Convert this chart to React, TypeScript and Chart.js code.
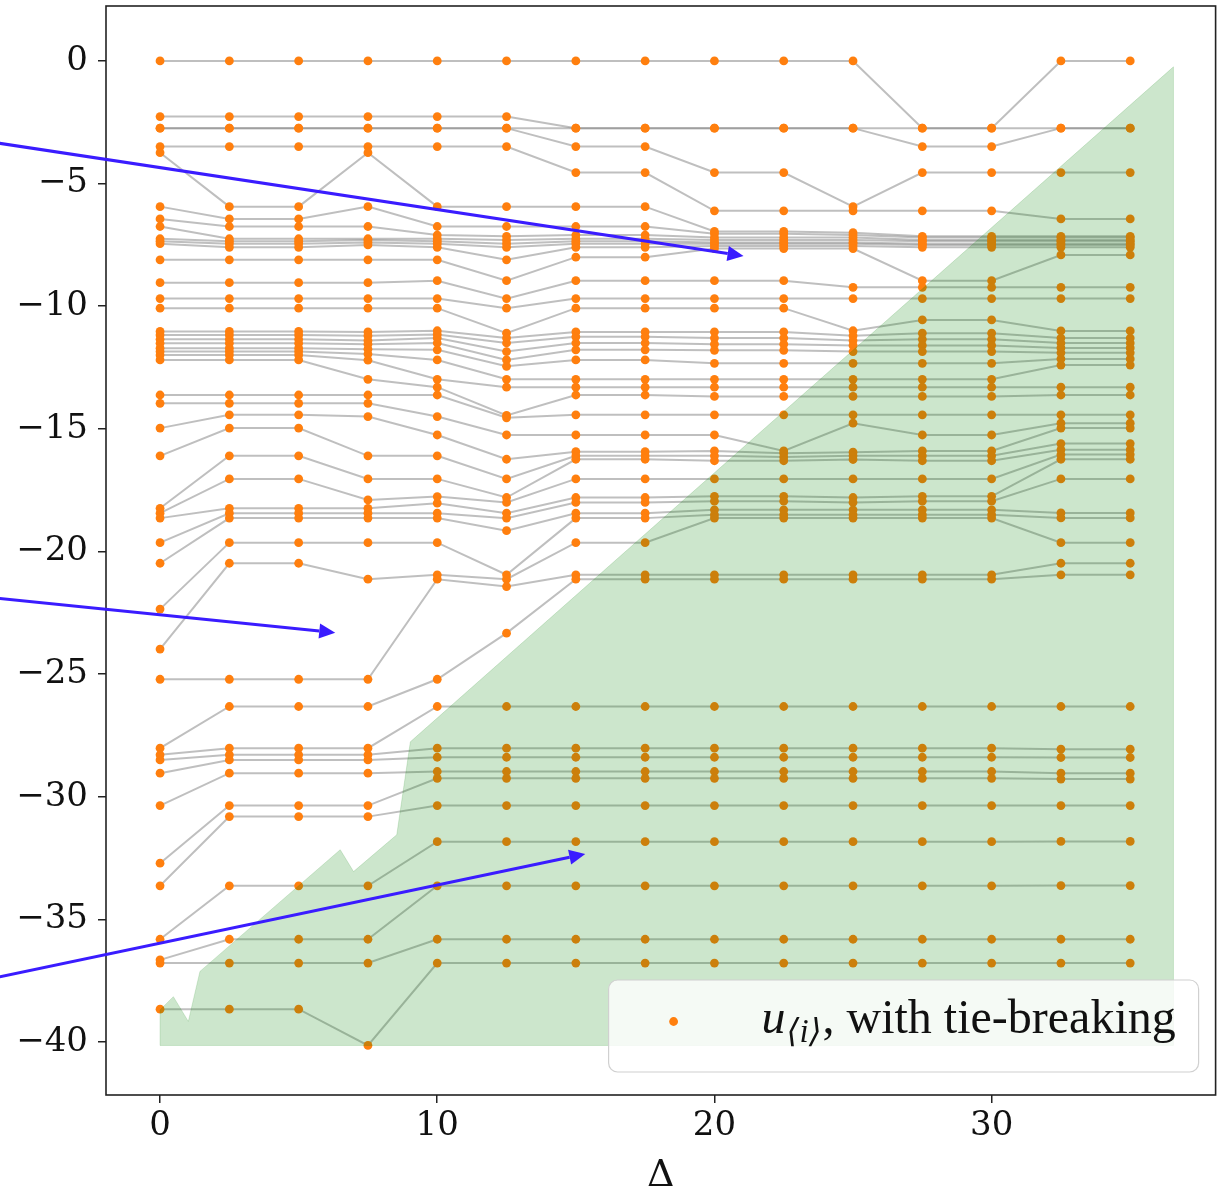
import React, { useEffect, useRef } from 'react';
import { Chart, registerables } from 'chart.js';

Chart.register(...registerables);

// Δ values (x positions of the columns)
const deltas = [0, 2.5, 5, 7.5, 10, 12.5, 15, 17.5, 20, 22.5, 25, 27.5, 30, 32.5, 35];

// sorted values u_<i> for each Δ (47 ranks each)
const uAt0 = [0, -2.27, -2.74, -2.74, -3.49, -3.74, -5.94, -6.44, -6.75, -7.25, -7.35, -7.45, -8.11, -9.04, -9.69, -10.08, -11.03, -11.17, -11.35, -11.51, -11.71, -11.85, -11.99, -12.19, -13.62, -13.96, -14.97, -16.1, -18.24, -18.44, -18.64, -19.64, -20.48, -22.35, -23.98, -25.21, -28.02, -28.29, -28.5, -29.04, -30.36, -32.71, -33.63, -35.81, -36.65, -36.78, -38.66];
const uAt2_5 = [0, -2.27, -2.74, -2.74, -3.49, -5.94, -6.44, -6.75, -7.25, -7.35, -7.45, -7.6, -8.11, -9.04, -9.69, -10.08, -11.03, -11.17, -11.35, -11.51, -11.71, -11.85, -11.99, -12.19, -13.62, -13.96, -14.43, -14.97, -16.1, -17.04, -18.24, -18.44, -18.64, -19.64, -20.48, -25.21, -26.32, -28.02, -28.29, -28.5, -29.04, -30.36, -30.81, -33.63, -35.81, -36.78, -38.66];
const uAt5 = [0, -2.27, -2.74, -2.74, -3.49, -5.94, -6.44, -6.75, -7.25, -7.35, -7.45, -7.6, -8.11, -9.04, -9.69, -10.08, -11.03, -11.17, -11.35, -11.51, -11.71, -11.85, -11.99, -12.19, -13.62, -13.96, -14.43, -14.97, -16.1, -17.04, -18.24, -18.44, -18.64, -19.64, -20.48, -25.21, -26.32, -28.02, -28.29, -28.5, -29.04, -30.36, -30.81, -33.63, -35.81, -36.78, -38.66];
const uAt7_5 = [0, -2.27, -2.74, -2.74, -3.49, -3.74, -5.94, -6.75, -7.25, -7.3, -7.4, -7.5, -8.11, -9.04, -9.69, -10.08, -11.05, -11.2, -11.4, -11.55, -11.75, -11.95, -12.2, -12.98, -13.62, -13.96, -14.5, -16.1, -17.04, -17.9, -18.24, -18.44, -18.64, -19.64, -21.13, -25.21, -26.32, -28.02, -28.29, -28.5, -29.04, -30.36, -30.81, -33.63, -35.81, -36.78, -40.14];
const uAt10 = [0, -2.27, -2.74, -2.74, -3.49, -5.94, -6.75, -7.1, -7.25, -7.35, -7.45, -7.6, -8.11, -8.96, -9.69, -10.08, -11.0, -11.15, -11.3, -11.5, -11.78, -12.19, -12.98, -13.3, -13.62, -14.5, -15.25, -16.1, -17.04, -17.76, -18.03, -18.44, -18.64, -19.64, -20.95, -21.13, -25.21, -26.32, -28.02, -28.39, -28.97, -29.25, -30.36, -31.83, -33.63, -35.81, -36.78];
const uAt12_5 = [0, -2.27, -2.74, -2.74, -3.49, -5.94, -6.75, -7.15, -7.3, -7.45, -7.6, -8.11, -8.96, -9.69, -10.08, -11.1, -11.3, -11.5, -11.85, -12.19, -12.45, -12.98, -13.3, -14.45, -14.55, -15.25, -16.24, -17.04, -17.8, -18.0, -18.44, -18.64, -19.15, -20.95, -21.13, -21.43, -23.33, -26.32, -28.02, -28.39, -28.97, -29.25, -30.36, -31.83, -33.63, -35.81, -36.78];
const uAt15 = [0, -2.74, -2.74, -3.49, -4.55, -5.94, -6.75, -7.1, -7.25, -7.35, -7.45, -7.6, -8.0, -8.96, -9.69, -10.08, -11.05, -11.25, -11.5, -11.78, -12.19, -12.98, -13.3, -13.62, -14.43, -15.25, -15.93, -16.1, -16.24, -17.04, -17.8, -18.0, -18.44, -18.64, -19.64, -20.95, -21.13, -26.32, -28.02, -28.39, -28.97, -29.25, -30.36, -31.83, -33.63, -35.81, -36.78];
const uAt17_5 = [0, -2.74, -2.74, -3.49, -4.55, -5.94, -6.75, -7.1, -7.25, -7.35, -7.45, -7.6, -8.0, -8.96, -9.69, -10.08, -11.05, -11.25, -11.5, -11.78, -12.19, -12.98, -13.3, -13.62, -14.43, -15.25, -15.93, -16.1, -16.24, -17.04, -17.8, -18.0, -18.44, -18.64, -19.64, -20.95, -21.13, -26.32, -28.02, -28.39, -28.97, -29.25, -30.36, -31.83, -33.63, -35.81, -36.78];
const uAt20 = [0, -2.74, -2.74, -4.55, -6.11, -6.95, -7.05, -7.2, -7.3, -7.4, -7.45, -7.55, -7.65, -8.96, -9.69, -10.08, -11.05, -11.3, -11.55, -11.8, -12.33, -12.98, -13.3, -13.68, -14.43, -15.25, -15.9, -16.1, -16.3, -17.04, -17.75, -17.95, -18.3, -18.5, -18.64, -20.95, -21.13, -26.32, -28.02, -28.39, -28.97, -29.25, -30.36, -31.83, -33.63, -35.81, -36.78];
const uAt22_5 = [0, -2.74, -2.74, -4.55, -6.11, -6.95, -7.05, -7.2, -7.3, -7.4, -7.45, -7.55, -7.65, -8.96, -9.69, -10.08, -11.05, -11.3, -11.55, -11.8, -12.33, -12.98, -13.3, -13.68, -14.43, -15.9, -16.0, -16.15, -16.3, -17.04, -17.75, -17.95, -18.3, -18.5, -18.64, -20.95, -21.13, -26.32, -28.02, -28.39, -28.97, -29.25, -30.36, -31.83, -33.63, -35.81, -36.78];
const uAt25 = [0, -2.74, -2.74, -5.94, -6.11, -7.0, -7.1, -7.2, -7.3, -7.4, -7.45, -7.55, -7.65, -9.23, -9.69, -11.0, -11.2, -11.4, -11.6, -11.85, -12.33, -12.98, -13.3, -13.68, -14.43, -14.77, -15.95, -16.1, -16.25, -17.04, -17.8, -18.0, -18.3, -18.5, -18.64, -20.95, -21.13, -26.32, -28.02, -28.39, -28.97, -29.25, -30.36, -31.83, -33.63, -35.81, -36.78];
const uAt27_5 = [-2.74, -2.74, -3.49, -4.55, -6.11, -7.15, -7.2, -7.3, -7.35, -7.45, -7.5, -7.6, -8.96, -9.23, -9.69, -10.56, -11.1, -11.35, -11.6, -11.85, -12.33, -12.98, -13.3, -13.68, -14.43, -15.25, -15.9, -16.1, -16.3, -17.04, -17.75, -17.95, -18.3, -18.5, -18.64, -20.95, -21.13, -26.32, -28.02, -28.39, -28.97, -29.25, -30.36, -31.83, -33.63, -35.81, -36.78];
const uAt30 = [-2.74, -2.74, -3.49, -4.55, -6.11, -7.15, -7.2, -7.3, -7.35, -7.45, -7.5, -7.6, -8.96, -9.23, -9.69, -10.56, -11.1, -11.35, -11.6, -11.85, -12.33, -12.98, -13.3, -13.68, -14.43, -15.25, -15.9, -16.1, -16.3, -17.04, -17.75, -17.95, -18.3, -18.5, -18.64, -20.95, -21.13, -26.32, -28.02, -28.39, -28.97, -29.25, -30.36, -31.83, -33.63, -35.81, -36.78];
const uAt32_5 = [0, -2.74, -2.74, -4.55, -6.44, -7.15, -7.2, -7.3, -7.35, -7.45, -7.5, -7.6, -7.91, -9.23, -9.69, -11.01, -11.3, -11.5, -11.7, -11.9, -12.15, -12.4, -13.3, -13.62, -14.43, -14.77, -14.97, -15.6, -15.85, -16.05, -16.24, -17.04, -18.43, -18.63, -19.64, -20.48, -20.95, -26.32, -28.06, -28.4, -29.04, -29.28, -30.36, -31.82, -33.62, -35.81, -36.78];
const uAt35 = [0, -2.74, -2.74, -4.55, -6.44, -7.15, -7.2, -7.3, -7.35, -7.45, -7.5, -7.6, -7.91, -9.23, -9.69, -11.01, -11.3, -11.5, -11.7, -11.9, -12.15, -12.4, -13.3, -13.62, -14.43, -14.77, -14.97, -15.6, -15.85, -16.05, -16.24, -17.04, -18.43, -18.63, -19.64, -20.48, -20.95, -26.32, -28.06, -28.4, -29.04, -29.28, -30.36, -31.82, -33.62, -35.81, -36.78];

const columns = [uAt0, uAt2_5, uAt5, uAt7_5, uAt10, uAt12_5, uAt15, uAt17_5, uAt20, uAt22_5, uAt25, uAt27_5, uAt30, uAt32_5, uAt35];

// axis ticks
const xTicks = [0, 10, 20, 30];
const yTicks = [0, -5, -10, -15, -20, -25, -30, -35, -40];

// shaded region (data coordinates)
const regionX = [0, 0, 0.48, 1.02, 1.44, 6.5, 6.98, 8.54, 9.03, 36.56, 36.56];
const regionY = [-40.14, -38.69, -38.15, -39.16, -37.12, -32.16, -33.05, -31.55, -27.76, -0.24, -40.14];

// annotation arrows (data coordinates)
const arrowFromX = [-5.78, -5.78, -5.78];
const arrowFromY = [-3.36, -21.92, -37.34];
const arrowToX = [21.05, 6.32, 15.34];
const arrowToY = [-7.95, -23.31, -32.33];

const legendMain = 'u';
const legendSub = '\u27E8i\u27E9';
const legendRest = ', with tie-breaking';

const fmt = (v: number) => (v < 0 ? '\u2212' + Math.abs(v) : String(v));

const overlay = {
  id: 'overlay',
  afterDatasetsDraw(chart: any) {
    const { ctx, chartArea: a, scales } = chart;
    const x = scales.x, y = scales.y;
    ctx.save();
    ctx.beginPath();
    ctx.rect(a.left, a.top, a.right - a.left, a.bottom - a.top);
    ctx.clip();
    ctx.beginPath();
    regionX.forEach((vx, k) => {
      const px = x.getPixelForValue(vx);
      const py = y.getPixelForValue(regionY[k]);
      if (k === 0) ctx.moveTo(px, py); else ctx.lineTo(px, py);
    });
    ctx.closePath();
    ctx.fillStyle = 'rgba(0,128,0,0.2)';
    ctx.fill();
    ctx.strokeStyle = 'rgba(0,128,0,0.15)';
    ctx.lineWidth = 1;
    ctx.stroke();
    ctx.restore();
  },
  afterDraw(chart: any) {
    const { ctx, chartArea: a, scales } = chart;
    const x = scales.x, y = scales.y;
    ctx.save();
    // frame
    ctx.strokeStyle = '#222';
    ctx.lineWidth = 1.6;
    ctx.strokeRect(a.left, a.top, a.right - a.left, a.bottom - a.top);

    // arrows
    ctx.strokeStyle = '#3a1cff';
    ctx.fillStyle = '#3a1cff';
    ctx.lineWidth = 3;
    for (let k = 0; k < arrowFromX.length; k++) {
      const x0 = x.getPixelForValue(arrowFromX[k]);
      const y0 = y.getPixelForValue(arrowFromY[k]);
      const x1 = x.getPixelForValue(arrowToX[k]);
      const y1 = y.getPixelForValue(arrowToY[k]);
      const ang = Math.atan2(y1 - y0, x1 - x0);
      const head = 16, half = 7.5;
      const bx = x1 - head * Math.cos(ang), by = y1 - head * Math.sin(ang);
      ctx.beginPath();
      ctx.moveTo(x0, y0);
      ctx.lineTo(bx, by);
      ctx.stroke();
      ctx.beginPath();
      ctx.moveTo(x1, y1);
      ctx.lineTo(bx + half * Math.sin(ang), by - half * Math.cos(ang));
      ctx.lineTo(bx - half * Math.sin(ang), by + half * Math.cos(ang));
      ctx.closePath();
      ctx.fill();
    }

    // legend
    const w = 590, h = 92;
    const lx = a.right - 17 - w;
    const ly = a.bottom - 23 - h;
    const r = 9;
    ctx.beginPath();
    ctx.moveTo(lx + r, ly);
    ctx.lineTo(lx + w - r, ly);
    ctx.arcTo(lx + w, ly, lx + w, ly + r, r);
    ctx.lineTo(lx + w, ly + h - r);
    ctx.arcTo(lx + w, ly + h, lx + w - r, ly + h, r);
    ctx.lineTo(lx + r, ly + h);
    ctx.arcTo(lx, ly + h, lx, ly + h - r, r);
    ctx.lineTo(lx, ly + r);
    ctx.arcTo(lx, ly, lx + r, ly, r);
    ctx.closePath();
    ctx.fillStyle = 'rgba(255,255,255,0.8)';
    ctx.fill();
    ctx.strokeStyle = '#d0d0d0';
    ctx.lineWidth = 1.2;
    ctx.stroke();

    ctx.beginPath();
    ctx.arc(lx + 65, ly + 41.5, 4.4, 0, Math.PI * 2);
    ctx.fillStyle = '#ff7f0e';
    ctx.fill();

    ctx.fillStyle = '#111';
    ctx.textBaseline = 'alphabetic';
    ctx.textAlign = 'left';
    const base = ly + 53;
    let tx = lx + 153;
    ctx.font = 'italic 48px "Liberation Serif", "DejaVu Serif", serif';
    ctx.fillText(legendMain, tx, base);
    tx += ctx.measureText(legendMain).width + 1;
    ctx.font = 'italic 33px "Liberation Serif", "DejaVu Serif", serif';
    ctx.fillText(legendSub, tx, base + 9);
    tx += ctx.measureText(legendSub).width + 1;
    ctx.font = '48px "Liberation Serif", "DejaVu Serif", serif';
    ctx.fillText(legendRest, tx, base);
    ctx.restore();
  },
};

export default function App() {
  const ref = useRef<HTMLCanvasElement>(null);

  useEffect(() => {
    const canvas = ref.current;
    if (!canvas) return;
    const n = columns[0].length;
    const lineSets = Array.from({ length: n }, (_, i) => ({
      label: 'rank ' + (i + 1),
      data: deltas.map((d, j) => ({ x: d, y: columns[j][i] })),
      showLine: true,
      borderColor: 'rgba(128,128,128,0.5)',
      borderWidth: 2,
      pointRadius: 0,
      pointHoverRadius: 0,
      order: 2,
    }));
    const pointSet = {
      label: 'u\u27E8i\u27E9, with tie-breaking',
      data: deltas.flatMap((d, j) => columns[j].map((v) => ({ x: d, y: v }))),
      showLine: false,
      pointRadius: 4.4,
      pointHoverRadius: 4.4,
      pointBackgroundColor: '#ff7f0e',
      pointBorderWidth: 0,
      order: 1,
    };
    const tickFont = { family: '"DejaVu Serif", serif', size: 34 };
    const chart = new Chart(canvas, {
      type: 'scatter',
      data: { datasets: [pointSet, ...lineSets] as any },
      options: {
        animation: false,
        responsive: false,
        devicePixelRatio: 1,
        events: [],
        layout: { padding: { left: 8, right: -1, top: 6, bottom: 0 } },
        plugins: { legend: { display: false }, tooltip: { enabled: false } },
        scales: {
          x: {
            type: 'linear',
            min: -1.95,
            max: 38.08,
            afterFit: (s: any) => { s.height = 95; s.paddingLeft = 0; s.paddingRight = 0; s.paddingTop = 0; s.paddingBottom = 0; },
            afterBuildTicks: (s: any) => { s.ticks = xTicks.map((v) => ({ value: v })); },
            grid: { drawOnChartArea: false, drawTicks: true, tickLength: 8, color: '#222', lineWidth: 1.5 },
            border: { display: false },
            ticks: { color: '#111', font: tickFont, padding: 3, maxRotation: 0, autoSkip: false, callback: (v: any) => fmt(Number(v)) },
            title: { display: true, text: '\u0394', color: '#111', font: { family: '"DejaVu Serif", serif', size: 38 }, padding: { top: 0, bottom: -9 } },
          },
          y: {
            type: 'linear',
            min: -42.16,
            max: 2.24,
            afterFit: (s: any) => { s.width = 98; s.paddingLeft = 0; s.paddingRight = 0; s.paddingTop = 0; s.paddingBottom = 0; },
            afterBuildTicks: (s: any) => { s.ticks = yTicks.map((v) => ({ value: v })); },
            grid: { drawOnChartArea: false, drawTicks: true, tickLength: 8, color: '#222', lineWidth: 1.5 },
            border: { display: false },
            ticks: { color: '#111', font: tickFont, padding: 10, autoSkip: false, callback: (v: any) => fmt(Number(v)) },
          },
        },
      } as any,
      plugins: [overlay],
    });
    return () => chart.destroy();
  }, []);

  return (
    <div style={{ position: 'fixed', left: 0, top: 0, width: 1220, height: 1190, background: '#fff' }}>
      <canvas ref={ref} width={1220} height={1190} style={{ display: 'block' }} />
    </div>
  );
}
